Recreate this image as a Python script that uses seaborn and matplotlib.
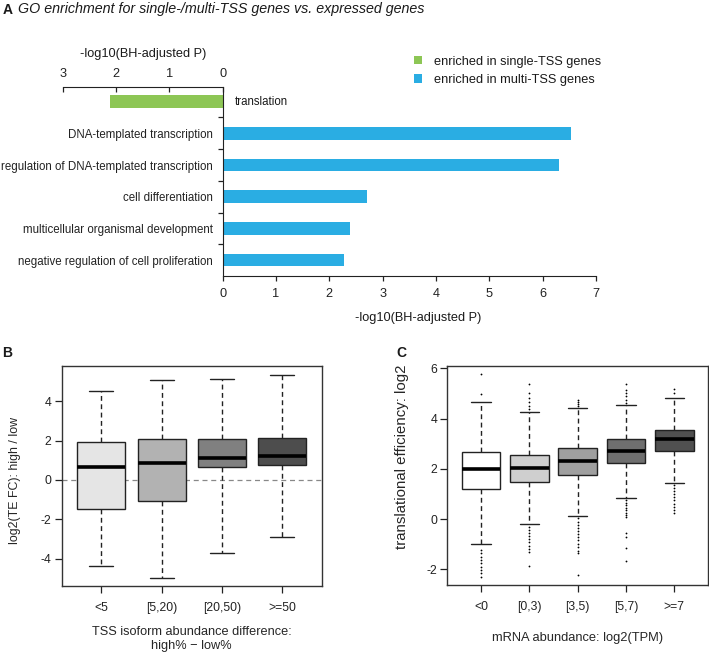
import numpy as np
import pandas as pd
import matplotlib
matplotlib.use("Agg")
import matplotlib.pyplot as plt
import matplotlib.transforms as mtransforms
from matplotlib.patches import Patch
import seaborn as sns

# ---------------- Panel A data ----------------
go_terms = ["translation",
            "DNA-templated transcription",
            "regulation of DNA-templated transcription",
            "cell differentiation",
            "multicellular organismal development",
            "negative regulation of cell proliferation"]
go_neglog10_p = [2.12, 6.54, 6.30, 2.71, 2.39, 2.28]
go_group = ["single", "multi", "multi", "multi", "multi", "multi"]
legend_labels = {"single": "enriched in single-TSS genes",
                 "multi": "enriched in multi-TSS genes"}
group_colors = {"single": "#8dc655", "multi": "#2aade3"}
a_bottom_ticks = [0, 1, 2, 3, 4, 5, 6, 7]
a_top_ticks = [3, 2, 1, 0]

# ---------------- Panel B data ----------------
b_bins = ["<5", "[5,20)", "[20,50)", ">=50"]
b_low = [-4.37, -4.97, -3.69, -2.92]
b_q1 = [-1.49, -1.05, 0.65, 0.78]
b_med = [0.64, 0.85, 1.13, 1.23]
b_q3 = [1.92, 2.07, 2.07, 2.12]
b_high = [4.52, 5.10, 5.13, 5.35]
b_colors = ["#e5e5e5", "#b2b2b2", "#808080", "#4d4d4d"]

# ---------------- Panel C data ----------------
c_bins = ["<0", "[0,3)", "[3,5)", "[5,7)", ">=7"]
c_low = [-0.98, -0.20, 0.11, 0.83, 1.42]
c_q1 = [1.19, 1.46, 1.74, 2.23, 2.71]
c_med = [1.99, 2.04, 2.30, 2.72, 3.20]
c_q3 = [2.68, 2.56, 2.82, 3.17, 3.54]
c_high = [4.66, 4.26, 4.43, 4.53, 4.82]
c_colors = ["#ffffff", "#cfcfcf", "#9f9f9f", "#6f6f6f", "#505050"]
c_out_lt0 = [5.77, 4.98, -1.23, -1.36, -1.50, -1.63, -1.76, -1.89, -2.02, -2.15, -2.29]
c_out_0_3 = [5.38, 5.00, 4.80, 4.65, 4.50, 4.38, -0.30, -0.42, -0.55, -0.68, -0.80,
             -0.92, -1.05, -1.18, -1.30, -1.86]
c_out_3_5 = [4.74, 4.65, 4.56, 4.48, 0.03, -0.10, -0.22, -0.35, -0.48, -0.60, -0.72,
             -0.85, -0.98, -1.12, -1.25, -1.36, -2.23]
c_out_5_7 = [5.37, 5.13, 5.00, 4.88, 4.75, 4.62, 0.76, 0.65, 0.55, 0.45, 0.35, 0.25,
             0.15, 0.07, -0.54, -0.73, -1.16, -1.67]
c_out_ge7 = [5.18, 5.03, 1.35, 1.22, 1.10, 0.98, 0.86, 0.74, 0.62, 0.50, 0.38, 0.25]

# ---------------- style ----------------
sns.set_style("ticks")
plt.rcParams["font.family"] = ["Liberation Sans", "DejaVu Sans"]
plt.rcParams["axes.unicode_minus"] = False
plt.rcParams["axes.edgecolor"] = "#222222"
plt.rcParams["xtick.color"] = "#222222"
plt.rcParams["ytick.color"] = "#222222"
plt.rcParams["text.color"] = "#1a1a1a"

W, H = 709, 654
fig = plt.figure(figsize=(W / 100, H / 100), dpi=100)


def rect(l, t, r, b):
    return [l / W, 1 - b / H, (r - l) / W, (b - t) / H]


# ================= Panel A =================
axA = fig.add_axes(rect(62.7, 86.7, 596.0, 276.0))
a_df = pd.DataFrame({
    "term": go_terms,
    "group": go_group,
    "signed": [-v if g == "single" else v for v, g in zip(go_neglog10_p, go_group)],
})
sns.barplot(data=a_df, x="signed", y="term", hue="group", order=go_terms,
            palette=group_colors, orient="h", width=0.4, dodge=False,
            saturation=1, errorbar=None, legend=False, linewidth=0, ax=axA)
axA.set_xlim(-3, 7)
axA.set_ylim(5.5, -0.47)
axA.set_xlabel("")
axA.set_ylabel("")
axA.spines["top"].set_visible(False)
axA.spines["right"].set_visible(False)
axA.spines["left"].set_position(("data", 0))
axA.spines["bottom"].set_bounds(0, 7)
axA.set_xticks(a_bottom_ticks)
axA.set_xticklabels([str(t) for t in a_bottom_ticks], fontsize=9.2)
axA.tick_params(axis="x", length=3.3, width=0.9, pad=5)
axA.set_yticks(range(len(go_terms)))
axA.set_yticklabels(["" if g == "single" else t for t, g in zip(go_terms, go_group)],
                    fontsize=8.3)
axA.tick_params(axis="y", which="major", length=0, pad=6.8)
axA.set_yticks([i + 0.5 for i in range(len(go_terms) - 1)], minor=True)
axA.tick_params(axis="y", which="minor", length=3.5, width=0.9, direction="out")
for i, (t, g) in enumerate(zip(go_terms, go_group)):
    if g == "single":
        axA.text(0, i, t, fontsize=8.3, ha="left", va="center",
                 transform=axA.transData + mtransforms.ScaledTranslation(
                     12.3 / 100, 0, fig.dpi_scale_trans))

axT = axA.twiny()
axT.set_xlim(axA.get_xlim())
axT.set_xticks([-t for t in a_top_ticks])
axT.set_xticklabels([str(t) for t in a_top_ticks], fontsize=9.2)
for s in ["bottom", "left", "right"]:
    axT.spines[s].set_visible(False)
axT.spines["top"].set_bounds(-3, 0)
axT.tick_params(axis="x", direction="in", length=3.3, width=0.9, pad=5)

blend = mtransforms.blended_transform_factory(axA.transData, axA.transAxes)
axA.text(-1.5, 1.173, "-log10(BH-adjusted P)", transform=blend,
         ha="center", va="center", fontsize=9.2)
axA.text(3.66, -0.222, "-log10(BH-adjusted P)", transform=blend,
         ha="center", va="center", fontsize=9.2)

handles = [Patch(facecolor=group_colors[k], edgecolor="none", label=legend_labels[k])
           for k in ["single", "multi"]]
fig.legend(handles=handles, loc="center left", bbox_to_anchor=(414 / W, 1 - 70.9 / H),
           frameon=False, fontsize=9.2, handlelength=0.62, handleheight=0.62,
           handletextpad=0.95, labelspacing=0.5, borderpad=0, borderaxespad=0)

fig.text(3 / W, 1 - 10 / H, "A", fontsize=10, fontweight="bold", ha="left", va="center")
fig.text(18 / W, 1 - 9.5 / H, "GO enrichment for single-/multi-TSS genes vs. expressed genes",
         fontsize=10.3, style="italic", ha="left", va="center")

# ================= box-plot helpers =================
box_kw = dict(whis=(0, 100), width=0.8, linewidth=1.0, linecolor="#222222",
              saturation=1, fliersize=0, legend=False,
              medianprops=dict(color="black", linewidth=2.6),
              whiskerprops=dict(linestyle=(0, (3.5, 2.5)), linewidth=1.0),
              capprops=dict(linewidth=1.0))


def summary_df(bins, lo, q1, med, q3, hi):
    vals = np.column_stack([lo, q1, med, q3, hi]).ravel()
    return pd.DataFrame({"bin": np.repeat(bins, 5), "value": vals})


def style_box_axes(ax):
    for s in ax.spines.values():
        s.set_visible(True)
        s.set_linewidth(1.0)
        s.set_color("#333333")
    ax.tick_params(axis="both", length=5, width=0.9, direction="out")
    ax.tick_params(axis="y", pad=2.4, labelsize=8.8)
    ax.tick_params(axis="x", pad=6.5, labelsize=8.7)


# ================= Panel B =================
axB = fig.add_axes(rect(61.7, 366.0, 321.7, 586.0))
b_df = summary_df(b_bins, b_low, b_q1, b_med, b_q3, b_high)
axB.axhline(0, color="#888888", linestyle=(0, (4, 3)), linewidth=0.9, zorder=1.5)
sns.boxplot(data=b_df, x="bin", y="value", hue="bin", order=b_bins, hue_order=b_bins,
            palette=b_colors, ax=axB, **box_kw)
axB.set_xlim(-0.66, 3.66)
axB.set_ylim(-5.39, 5.79)
axB.set_yticks([-4, -2, 0, 2, 4])
style_box_axes(axB)
axB.set_xlabel("TSS isoform abundance difference:\nhigh% \u2212 low%", fontsize=9.2,
               va="center", linespacing=1.15)
axB.xaxis.set_label_coords(0.5, -0.2405)
axB.set_ylabel("log2(TE FC): high / low", fontsize=8.9, va="center")
axB.yaxis.set_label_coords(-0.1796, 0.482)
fig.text(2 / W, 1 - 353 / H, "B", fontsize=10, fontweight="bold", ha="left", va="center")

# ================= Panel C =================
axC = fig.add_axes(rect(447.3, 365.7, 708.0, 585.0))
c_df = summary_df(c_bins, c_low, c_q1, c_med, c_q3, c_high)
sns.boxplot(data=c_df, x="bin", y="value", hue="bin", order=c_bins, hue_order=c_bins,
            palette=c_colors, ax=axC, **box_kw)
c_outliers = [c_out_lt0, c_out_0_3, c_out_3_5, c_out_5_7, c_out_ge7]
c_out_df = pd.DataFrame({
    "bin": np.concatenate([[b] * len(o) for b, o in zip(c_bins, c_outliers)]),
    "value": np.concatenate(c_outliers),
})
sns.stripplot(data=c_out_df, x="bin", y="value", order=c_bins, jitter=False,
              color="black", size=1.3, linewidth=0, ax=axC, zorder=3)
axC.set_xlim(-0.7, 4.7)
axC.set_ylim(-2.62, 6.10)
axC.set_yticks([-2, 0, 2, 4, 6])
style_box_axes(axC)
axC.set_xlabel("mRNA abundance: log2(TPM)", fontsize=9.3, va="center")
axC.xaxis.set_label_coords(0.5, -0.2417)
axC.set_ylabel("translational efficiency: log2", fontsize=10.8, va="center")
axC.yaxis.set_label_coords(-0.175, 0.585)
fig.text(396 / W, 1 - 353 / H, "C", fontsize=10, fontweight="bold", ha="left", va="center")

fig.savefig("out.png", dpi=100)
